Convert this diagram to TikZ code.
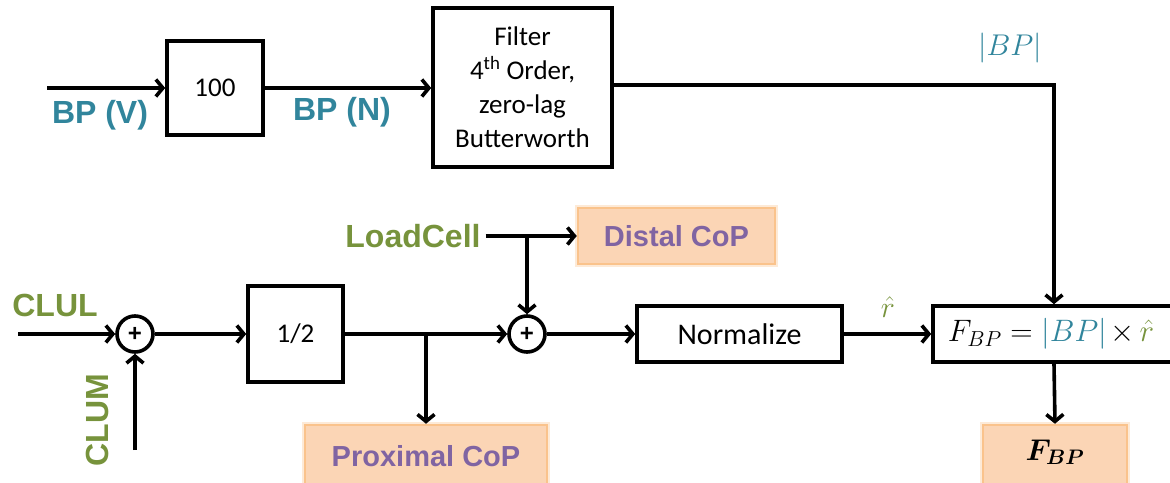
\RequirePackage{fix-cm}
\documentclass[tikz,border=0pt]{standalone}
\usepackage{bm}
\usepackage{fontspec}
\setmainfont{Carlito}
\newfontfamily\lab{Liberation Sans}
\usetikzlibrary{arrows.meta}
\definecolor{bpcol}{HTML}{31859C}
\definecolor{grn}{HTML}{77933C}
\definecolor{prp}{HTML}{8064A2}
\definecolor{orfill}{HTML}{FBD5B5}
\definecolor{ordraw}{HTML}{FAC38C}
\begin{document}
\begin{tikzpicture}[x=1pt,y=-1pt,line width=3.6pt,
  blk/.style={draw,line width=3.6pt,inner sep=0pt,font=\fontsize{27}{34}\selectfont},
  sumnode/.style={draw,circle,line width=3.6pt,minimum size=36pt,inner sep=0pt,font=\lab\bfseries\fontsize{24}{24}\selectfont},
  ar/.style={-{Straight Barb[length=7pt,width=17pt]}},
  orbox/.style={fill=orfill,draw=ordraw,line width=2.5pt,inner sep=0pt,
     preaction={draw=ordraw,line width=6pt,opacity=0.35}},
  tlab/.style={text=bpcol,font=\lab\bfseries\fontsize{32}{36}\selectfont},
  glab/.style={text=grn,font=\lab\bfseries\fontsize{32}{36}\selectfont},
  plab/.style={text=prp,font=\lab\bfseries\fontsize{29}{34}\selectfont},
  mlab/.style={font=\fontsize{30}{36}\selectfont}]
\useasboundingbox (0,0) rectangle (1170,482);

% top row
\node[blk,minimum width=96pt,minimum height=94pt] (b100) at (215,88) {100};
\node[blk,minimum width=179pt,minimum height=159pt,align=center] (filt) at (522.5,87.5)
  {Filter\\4\textsuperscript{th} Order,\\zero-lag\\Butterworth};
\coordinate (bpin) at (47,88);
\node[tlab] (bpv) at (100,115) {BP (V)};
\node[tlab] (bpn) at (342,112) {BP (N)};
\node[mlab,text=bpcol] (absbp) at (1010,48) {$|BP|$};

% bottom row
\node[sumnode] (s1) at (135,334) {+};
\node[blk,minimum width=95pt,minimum height=96pt] (half) at (295.5,334) {1/2};
\node[sumnode] (s2) at (527,334) {+};
\node[blk,minimum width=205pt,minimum height=56pt,font=\fontsize{30}{36}\selectfont] (norm) at (739.5,334) {Normalize};
\node[blk,minimum width=242pt,minimum height=56pt] (fbp) at (1054,334) {};
\node[font=\fontsize{31}{36}\selectfont,anchor=west,inner sep=0pt] (fbpeq) at (946,334)
  {$F_{BP}={\color{bpcol}|BP|}\mkern2mu{\times}\mkern3mu{\color{grn}\hat{r}}$};
\node[mlab,text=grn] (rhat) at (888,307) {$\hat{r}$};

\node[glab] (clul) at (55,305) {CLUL};
\node[glab,rotate=90] (clum) at (97,420) {CLUM};
\coordinate (clulin) at (18,334);
\coordinate (clumin) at (135,450);

\node[glab] (lc) at (413,236) {LoadCell};
\node[orbox,minimum width=197pt,minimum height=56pt] (dist) at (676.5,236) {};
\node[plab] at (dist) {Distal CoP};
\node[orbox,minimum width=242pt,minimum height=62pt] (prox) at (426,456) {};
\node[plab] at (prox) {Proximal CoP};
\node[orbox,minimum width=144pt,minimum height=62pt] (fout) at (1055,456) {};
\node[font=\fontsize{30}{36}\selectfont] at (1055,452) {$\bm{F_{BP}}$};

\coordinate (j1) at (s2 |- lc);
\coordinate (j2) at (prox.north |- s2);

% connectors
\draw[ar] (bpin) -- (b100.west);
\draw[ar] (b100.east) -- (filt.west |- b100.east);
\draw[ar] (filt.east |- 0,85) -| (fbp.north);
\draw[ar] (clulin) -- (s1.west);
\draw[ar] (clumin) -- (s1.south);
\draw[ar] (s1.east) -- (half.west);
\draw (half.east) -- (j2);
\draw[ar] (j2) -- (s2.west);
\draw[ar] (j2) -- (prox.north);
\draw[ar] (lc.east) -- (dist.west);
\draw[ar] (j1) -- (s2.north);
\draw[ar] (s2.east) -- (norm.west);
\draw[ar] (norm.east) -- (fbp.west);
\draw[ar] (fbp.south) -- (fout.north);
\end{tikzpicture}
\end{document}
